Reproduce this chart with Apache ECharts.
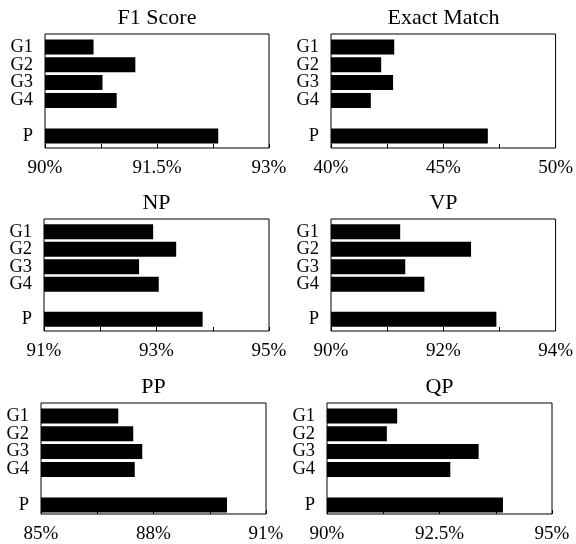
<!DOCTYPE html>
<html>
<head>
<meta charset="utf-8">
<script src="https://cdn.jsdelivr.net/npm/echarts@6/dist/echarts.min.js"></script>
<style>
  html, body { margin: 0; padding: 0; background: #fff; }
  #chart { width: 576px; height: 544px; }
</style>
</head>
<body>
<div id="chart"></div>
<script>
// categories on the y axis, the empty one is the gap before P
const categories = ['G1', 'G2', 'G3', 'G4', '', 'P'];
const titles = ['F1 Score', 'Exact Match', 'NP', 'VP', 'PP', 'QP'];

const f1Score    = [90.65, 91.21, 90.77, 90.96, null, 92.32];
const exactMatch = [42.81, 42.23, 42.76, 41.77, null, 46.97];
const npScore    = [92.94, 93.35, 92.69, 93.04, null, 93.82];
const vpScore    = [91.23, 92.49, 91.32, 91.66, null, 92.94];
const ppScore    = [87.06, 87.46, 87.70, 87.50, null, 89.96];
const qpScore    = [91.56, 91.33, 93.37, 92.74, null, 93.91];

const axisMin = [90, 40, 91, 90, 85, 90];
const axisMax = [93, 50, 95, 94, 91, 95];
const tickLabels = [
  ['90%', '', '91.5%', '', '93%'],
  ['40%', '', '45%', '', '50%'],
  ['91%', '', '93%', '', '95%'],
  ['90%', '', '92%', '', '94%'],
  ['85%', '', '88%', '', '91%'],
  ['90%', '', '92.5%', '', '95%']
];

const seriesValues = [f1Score, exactMatch, npScore, vpScore, ppScore, qpScore];

// box of each panel: left, top, width, height
const boxes = [
  [45, 34, 224, 114],
  [331, 34, 225, 114],
  [44, 219, 225, 112],
  [331, 219, 225, 112],
  [41, 403, 225, 114],
  [327, 403, 225, 114]
];

const font = 'Liberation Serif';
let grids = [], xAxes = [], yAxes = [], series = [], titleList = [];

boxes.forEach(function (b, i) {
  // frame grid: border + tick labels
  grids.push({
    left: b[0], top: b[1], width: b[2], height: b[3],
    show: true, borderColor: '#000', borderWidth: 1, backgroundColor: 'transparent'
  });
  // data grid, a little inset from the frame
  grids.push({left: b[0], top: b[1] + 4, width: b[2], height: b[3] - 7});

  xAxes.push({
    gridIndex: i * 2, type: 'category', boundaryGap: false,
    data: tickLabels[i],
    axisLine: {show: false},
    axisTick: {show: true, inside: true, length: 4, interval: 0, lineStyle: {color: '#000'}},
    axisLabel: {interval: 0, margin: 11, color: '#000', fontFamily: font, fontSize: 19},
    splitLine: {show: false}
  });
  xAxes.push({
    gridIndex: i * 2 + 1, type: 'value', min: axisMin[i], max: axisMax[i], show: false
  });
  yAxes.push({gridIndex: i * 2, type: 'value', show: false});
  yAxes.push({
    gridIndex: i * 2 + 1, type: 'category', inverse: true, data: categories,
    axisLine: {show: false}, axisTick: {show: false},
    axisLabel: {interval: 0, margin: 12, color: '#000', fontFamily: font, fontSize: 18.5}
  });

  series.push({
    type: 'bar', xAxisIndex: i * 2 + 1, yAxisIndex: i * 2 + 1,
    data: seriesValues[i], barWidth: 15,
    itemStyle: {color: '#000'}, silent: true, animation: false
  });

  titleList.push({
    text: titles[i], left: b[0] + b[2] / 2, top: b[1] - 27,
    textAlign: 'center', padding: 0,
    textStyle: {fontFamily: font, fontSize: 22, fontWeight: 'normal', color: '#000'}
  });
});

const chart = echarts.init(document.getElementById('chart'));
chart.setOption({
  animation: false,
  backgroundColor: '#fff',
  title: titleList,
  grid: grids,
  xAxis: xAxes,
  yAxis: yAxes,
  series: series
});
</script>
</body>
</html>
